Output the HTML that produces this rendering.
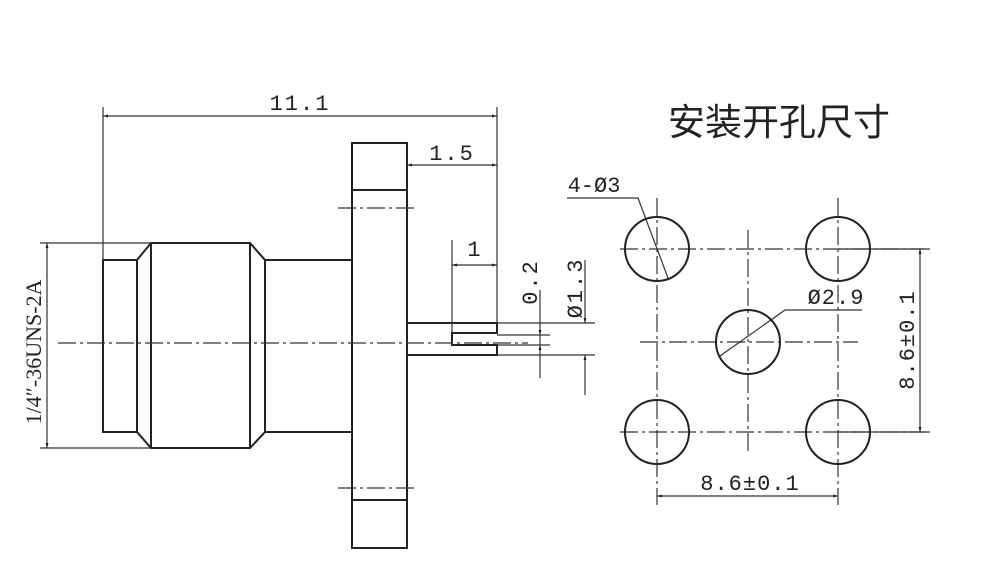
<!DOCTYPE html>
<html><head><meta charset="utf-8"><style>
html,body{margin:0;padding:0;background:#fff}
svg{display:block}
text{font-family:"Liberation Mono","Noto Serif CJK SC",monospace;fill:#222}
</style></head><body>
<svg width="1000" height="572" viewBox="0 0 1000 572" xmlns="http://www.w3.org/2000/svg">
<defs>
<marker id="a" viewBox="0 0 10 10" refX="10" refY="5" markerWidth="9" markerHeight="5" orient="auto-start-reverse" markerUnits="userSpaceOnUse"><path d="M0,2 L10,5 L0,8z" fill="#222"/></marker>
</defs>
<g stroke="#222" stroke-width="2" fill="none">
<rect x="103" y="260" width="34" height="172"/>
<path d="M151,243 L250,243 L265,260 L265,432 L250,448 L151,448 L137,432 L137,260 Z"/>
<line x1="151" y1="243" x2="151" y2="448"/>
<line x1="250" y1="243" x2="250" y2="448"/>
<rect x="265" y="260" width="87" height="172"/>
<rect x="352" y="143" width="55" height="405"/>
<line x1="352" y1="190" x2="407" y2="190"/>
<line x1="352" y1="500" x2="407" y2="500"/>
<path d="M407,323 L497,323 L497,333 L452,333 L452,345 L497,345 L497,355 L407,355"/>
</g>
<g stroke="#333" stroke-width="1.2" fill="none" stroke-dasharray="18,4,3,4">
<line x1="58" y1="343" x2="528" y2="343"/>
<line x1="338" y1="208" x2="416" y2="208"/>
<line x1="338" y1="488" x2="416" y2="488"/>
<line x1="620" y1="249" x2="925" y2="249"/>
<line x1="620" y1="432" x2="925" y2="432"/>
<line x1="640" y1="342" x2="858" y2="342"/>
<line x1="657" y1="198" x2="657" y2="505"/>
<line x1="838" y1="198" x2="838" y2="505"/>
<line x1="748" y1="230" x2="748" y2="452"/>
</g>
<g stroke="#333" stroke-width="1.2" fill="none">
<line x1="103" y1="107" x2="103" y2="260"/>
<line x1="497" y1="107" x2="497" y2="323"/>
<line x1="103" y1="116" x2="497" y2="116" marker-start="url(#a)" marker-end="url(#a)"/>
<line x1="407" y1="165" x2="497" y2="165" marker-start="url(#a)" marker-end="url(#a)"/>
<line x1="452" y1="240" x2="452" y2="333"/>
<line x1="452" y1="265" x2="497" y2="265" marker-start="url(#a)" marker-end="url(#a)"/>
<line x1="497" y1="335" x2="550" y2="335"/>
<line x1="497" y1="345" x2="550" y2="345"/>
<line x1="540" y1="290" x2="540" y2="335" marker-end="url(#a)"/>
<line x1="540" y1="378" x2="540" y2="345" marker-end="url(#a)"/>
<line x1="540" y1="335" x2="540" y2="345"/>
<line x1="497" y1="323" x2="595" y2="323"/>
<line x1="497" y1="355" x2="595" y2="355"/>
<line x1="585" y1="260" x2="585" y2="323" marker-end="url(#a)"/>
<line x1="585" y1="395" x2="585" y2="355" marker-end="url(#a)"/>
<line x1="40" y1="243" x2="150" y2="243"/>
<line x1="40" y1="448" x2="150" y2="448"/>
<line x1="47" y1="243" x2="47" y2="448" marker-start="url(#a)" marker-end="url(#a)"/>
<line x1="838" y1="249" x2="930" y2="249"/>
<line x1="838" y1="432" x2="930" y2="432"/>
<line x1="920" y1="249" x2="920" y2="432" marker-start="url(#a)" marker-end="url(#a)"/>
<line x1="657" y1="496" x2="838" y2="496" marker-start="url(#a)" marker-end="url(#a)"/>
<polyline points="567,198 638,198 668,278"/>
<polyline points="862,310 785,310 720,356"/>
</g>
<g stroke="#222" stroke-width="2" fill="none">
<circle cx="657" cy="249" r="32"/>
<circle cx="838" cy="249" r="32"/>
<circle cx="657" cy="432" r="32"/>
<circle cx="838" cy="432" r="32"/>
<circle cx="748" cy="342" r="32"/>
</g>
<g font-size="22" text-anchor="middle">
<text x="300" y="110" letter-spacing="2">11.1</text>
<text x="452" y="160" letter-spacing="2">1.5</text>
<text x="474" y="256">1</text>
<text x="594" y="192">4-Ø3</text>
<text x="836" y="304" letter-spacing="1">Ø2.9</text>
<text x="750" y="490" letter-spacing="1">8.6±0.1</text>
<text transform="translate(537,282) rotate(-90)" letter-spacing="2">0.2</text>
<text transform="translate(582,288) rotate(-90)" letter-spacing="2">Ø1.3</text>
<text transform="translate(914,340) rotate(-90)" letter-spacing="1">8.6±0.1</text>
<text transform="translate(41,352) rotate(-90)" font-size="22" style="font-family:'Liberation Serif',serif">1/4″-36UNS-2A</text>
</g>
<text x="779" y="135" font-size="37" text-anchor="middle" style="font-family:'Noto Sans CJK SC',sans-serif">安装开孔尺寸</text>
</svg>
</body></html>
